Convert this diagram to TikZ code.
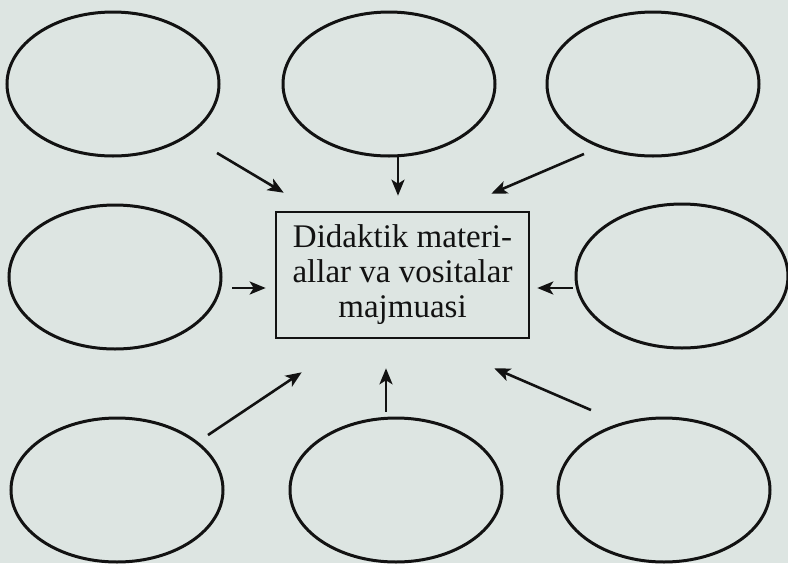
\documentclass[tikz,border=0pt]{standalone}
\usepackage{fontspec}
\setmainfont{Liberation Serif}
\usetikzlibrary{shapes.geometric,arrows.meta}
\definecolor{paper}{RGB}{221,229,226}
\definecolor{ink}{RGB}{18,18,18}

\begin{document}
\begin{tikzpicture}[x=1pt,y=-1pt,
    oval/.style={ellipse,draw=ink,line width=3pt,minimum width=212pt,minimum height=144pt,inner sep=0pt},
    mainbox/.style={rectangle,draw=ink,line width=2.6pt,minimum width=253pt,minimum height=126pt,align=center,text=ink,font=\fontsize{33}{35}\selectfont},
    arr/.style={draw=ink,line width=2.6pt,-{Stealth[length=16pt,width=13pt,inset=4pt]}}]
        % Paper background
        \useasboundingbox (0,0) rectangle (788,563);
        \fill[paper] (0,0) rectangle (788,563);

        % Empty ovals around
        \foreach \name/\x/\y in {tl/113/84, tm/389/84, tr/653/84, ml/115/277, mr/682/276, bl/117/490, bm/396/490, br/664/490} {
            \node[oval] (\name) at (\x,\y) {};
        }

        % Central node
        \node[mainbox] (box) at (402.5,275) {Didaktik materi-\\allar va vositalar\\majmuasi};

        % Arrows into the box
        \draw[arr] ([shift={(28,17)}]tl.south east) -- ([shift={(9,-18)}]box.north west);
        \draw[arr] ([shift={(9,-1)}]tm.south) -- ([shift={(-4.5,-15)}]box.north);
        \draw[arr] ([shift={(7,18)}]tr.south west) -- ([shift={(-39,-17)}]box.north east);
        \draw[arr] ([shift={(9.5,11)}]ml.east) -- ([shift={(-9,13)}]box.west);
        \draw[arr] ([shift={(-2,12)}]mr.west) -- ([shift={(7,13)}]box.east);
        \draw[arr] ([shift={(15,-3)}]bl.north east) -- ([shift={(27,33)}]box.south west);
        \draw[arr] ([shift={(-10,-5)}]bm.north) -- ([shift={(-16.5,29)}]box.south);
        \draw[arr] ([shift={(3,-28)}]br.north west) -- ([shift={(-36,29)}]box.south east);
    \end{tikzpicture}
\end{document}
